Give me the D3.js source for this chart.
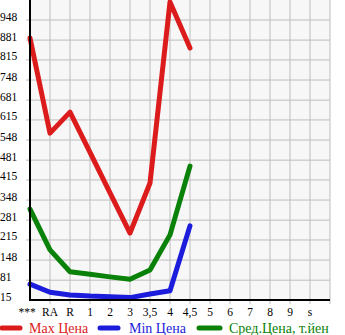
<!DOCTYPE html>
<html><head><meta charset="utf-8">
<script src="https://cdn.jsdelivr.net/npm/d3@7"></script>
<style>body{margin:0;background:#fff}svg{display:block}</style>
</head><body>
<svg id="c" width="345" height="335"></svg>
<script>
const categories = ["***","RA","R","1","2","3","3,5","4","4,5","5","6","7","8","9","s"];
const yTicks = [15,81,148,215,281,348,415,481,548,615,681,748,815,881,948];
const maxPrice = [888,571,641,507,372,238,405,1008,855,null,null,null,null,null,null];
const minPrice = [68,41,32,28,26,23,35,46,262,null,null,null,null,null,null];
const avgPrice = [318,182,109,101,92,84,115,232,461,null,null,null,null,null,null];
const seriesNames = ["Max Цена","Min Цена","Сред.Цена, т.йен"];
const seriesColors = ["#dc1c1c","#1c1cdc","#0a820a"];

const svg = d3.select("#c");
const L = 30, R = 330, T = 0, B = 300;
const x = d3.scaleLinear().domain([0, categories.length]).range([L, R]);
const y = d3.scaleLinear().domain([15, 948]).range([B, 20]);
const font = "'Liberation Serif','DejaVu Serif',serif";

svg.append("rect").attr("x", L).attr("y", T).attr("width", R - L).attr("height", B - T).attr("fill", "#f7f7f7");

// grid
const g = svg.append("g");
d3.range(1, categories.length + 1).forEach(i => {
  g.append("line").attr("x1", x(i)).attr("x2", x(i)).attr("y1", T).attr("y2", B + 4)
    .attr("stroke", "#bdbdbd").attr("stroke-width", 1);
});
yTicks.forEach(v => {
  g.append("line").attr("x1", L - 4).attr("x2", R).attr("y1", y(v)).attr("y2", y(v))
    .attr("stroke", v === 15 ? "none" : "#bdbdbd").attr("stroke-width", 1);
});

// y labels
svg.append("g").selectAll("text").data(yTicks).join("text")
  .attr("x", 0).attr("y", d => y(d) + 0.5)
  .attr("font-family", font).attr("font-size", 11.5).attr("fill", "#000")
  .text(d => d);

// x labels
svg.append("g").selectAll("text").data(categories).join("text")
  .attr("x", (d, i) => x(i) + (i === 0 ? -3 : 0)).attr("y", 316)
  .attr("text-anchor", "middle")
  .attr("font-family", font).attr("font-size", 11.5).attr("fill", "#000")
  .text(d => d);

// lines
const line = d3.line().defined(d => d != null).x((d, i) => x(i)).y(d => y(d));
[maxPrice, minPrice, avgPrice].forEach((s, k) => {
  svg.append("path").datum(s).attr("d", line).attr("fill", "none")
    .attr("stroke", seriesColors[k]).attr("stroke-width", 5)
    .attr("stroke-linejoin", "round").attr("stroke-linecap", "round");
});

// axes
svg.append("line").attr("x1", L).attr("x2", L).attr("y1", T).attr("y2", B + 1).attr("stroke", "#000").attr("stroke-width", 2);
svg.append("line").attr("x1", L - 1).attr("x2", R).attr("y1", B).attr("y2", B).attr("stroke", "#000").attr("stroke-width", 2);

// legend
const legX = [[2, 20, 29], [100, 118, 129], [199, 220, 229]];
seriesNames.forEach((n, k) => {
  svg.append("line").attr("x1", legX[k][0]).attr("x2", legX[k][1]).attr("y1", 328).attr("y2", 328)
    .attr("stroke", seriesColors[k]).attr("stroke-width", 5).attr("stroke-linecap", "round");
  svg.append("text").attr("x", legX[k][2]).attr("y", 333)
    .attr("font-family", font).attr("font-size", 14).attr("fill", seriesColors[k]).text(n);
});
</script>
</body></html>
